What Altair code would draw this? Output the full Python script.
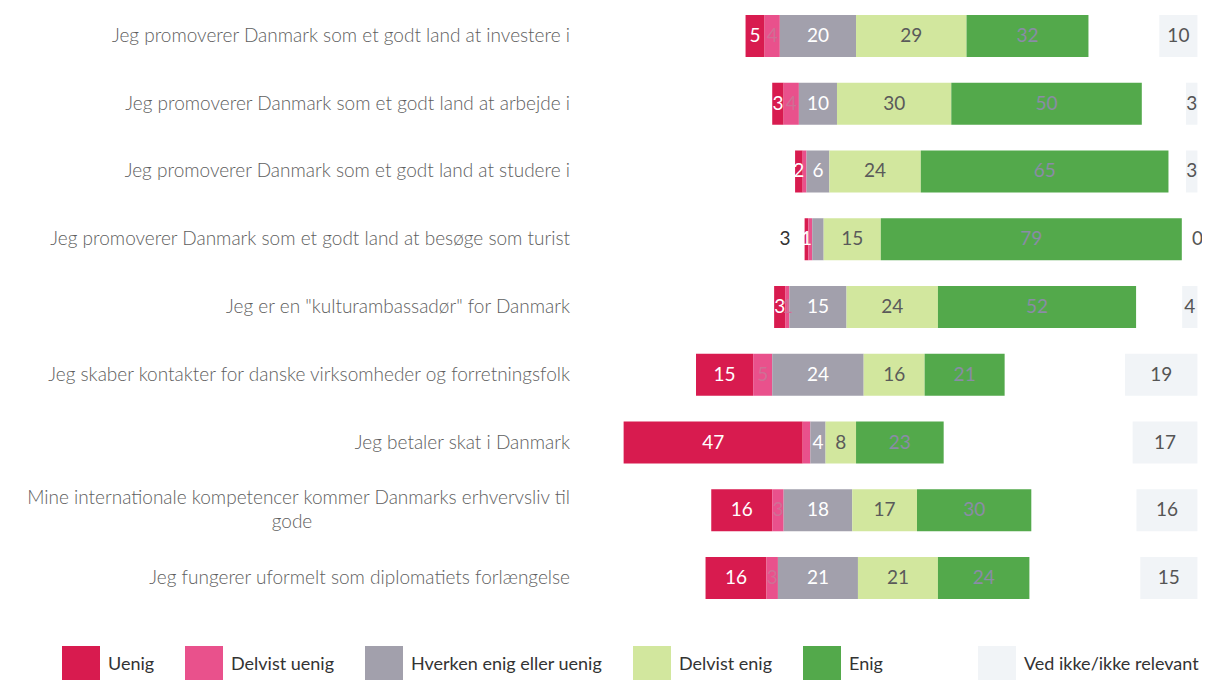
import altair as alt
import pandas as pd

statements = [
    "Jeg promoverer Danmark som et godt land at investere i",
    "Jeg promoverer Danmark som et godt land at arbejde i",
    "Jeg promoverer Danmark som et godt land at studere i",
    "Jeg promoverer Danmark som et godt land at besøge som turist",
    'Jeg er en "kulturambassadør" for Danmark',
    "Jeg skaber kontakter for danske virksomheder og forretningsfolk",
    "Jeg betaler skat i Danmark",
    "Mine internationale kompetencer kommer Danmarks erhvervsliv til gode",
    "Jeg fungerer uformelt som diplomatiets forlængelse",
]
label_line1 = [
    "Jeg promoverer Danmark som et godt land at investere i",
    "Jeg promoverer Danmark som et godt land at arbejde i",
    "Jeg promoverer Danmark som et godt land at studere i",
    "Jeg promoverer Danmark som et godt land at besøge som turist",
    'Jeg er en "kulturambassadør" for Danmark',
    "Jeg skaber kontakter for danske virksomheder og forretningsfolk",
    "Jeg betaler skat i Danmark",
    "Mine internationale kompetencer kommer Danmarks erhvervsliv til",
    "Jeg fungerer uformelt som diplomatiets forlængelse",
]
label_line2 = ["", "", "", "", "", "", "", "gode", ""]

categories = ["Uenig", "Delvist uenig", "Hverken enig eller uenig", "Delvist enig", "Enig"]
vi_category = "Ved ikke/ikke relevant"

uenig = [5, 3, 2, 1, 3, 15, 47, 16, 16]
delvist_uenig = [4, 4, 1, 1, 1, 5, 2, 3, 3]
hverken = [20, 10, 6, 3, 15, 24, 4, 18, 21]
delvist_enig = [29, 30, 24, 15, 24, 16, 8, 17, 21]
enig = [32, 50, 65, 79, 52, 21, 23, 30, 24]
ved_ikke = [10, 3, 3, 0, 4, 19, 17, 16, 15]

# shown value labels (empty = not shown in the original)
uenig_lbl = ["5", "3", "2", "1", "3", "15", "47", "16", "16"]
delvist_uenig_lbl = ["4", "4", "", "", "1", "5", "", "3", "3"]
hverken_lbl = ["20", "10", "6", "", "15", "24", "4", "18", "21"]
delvist_enig_lbl = ["29", "30", "24", "15", "24", "16", "8", "17", "21"]
enig_lbl = ["32", "50", "65", "79", "52", "21", "23", "30", "24"]
outside_lbl = ["", "", "", "3", "", "", "", "", ""]

colors = ["#d81b4f", "#e9518c", "#a2a0ac", "#d2e79e", "#53a94b"]
label_colors = ["#ffffff", "#cf6f95", "#ffffff", "#5a5a5a", "#8a8ca6"]
vi_color = "#f1f4f7"

X_MIN, X_MAX, VI_RIGHT = -57.2, 100.8, 99.6
FONT = "Lato"

series = [uenig, delvist_uenig, hverken, delvist_enig, enig]
series_lbl = [uenig_lbl, delvist_uenig_lbl, hverken_lbl, delvist_enig_lbl, enig_lbl]

rows = []
for i, s in enumerate(statements):
    start = -(uenig[i] + delvist_uenig[i] + hverken[i] / 2)
    for k, cat in enumerate(categories):
        v = series[k][i]
        rows.append(dict(statement=s, Svar=cat, value=v, start=start, end=start + v,
                         mid=start + v / 2, label=series_lbl[k][i], lcolor=label_colors[k]))
        start += v
seg = pd.DataFrame(rows)

vi = pd.DataFrame(dict(statement=statements, Svar=vi_category, value=ved_ikke,
                       vstart=[VI_RIGHT - v for v in ved_ikke], vend=[VI_RIGHT] * len(statements),
                       vmid=[VI_RIGHT - v / 2 for v in ved_ikke],
                       label=[str(v) for v in ved_ikke]))

out = pd.DataFrame(dict(statement=statements, label=outside_lbl,
                        left=[-(uenig[i] + delvist_uenig[i] + hverken[i] / 2) for i in range(len(statements))]))
out = out[out.label != ""]

cat_lbl = pd.DataFrame(dict(statement=statements, line1=label_line1, line2=label_line2))

xs = alt.Scale(domain=[X_MIN, X_MAX], nice=False, zero=False)
ys = alt.Scale(domain=statements, paddingInner=0.38, paddingOuter=0.103)
Y = alt.Y("statement:N", scale=ys, axis=None, sort=statements)

bars = alt.Chart(seg).mark_bar(strokeWidth=0).encode(
    x=alt.X("start:Q", scale=xs, axis=None),
    x2="end:Q",
    y=Y,
    color=alt.Color("Svar:N", scale=alt.Scale(domain=categories, range=colors),
                    legend=alt.Legend(orient="none", legendX=-538, legendY=638, direction="horizontal",
                                      columns=5, title=None, symbolType="square", symbolSize=1444,
                                      symbolStrokeWidth=0, symbolOpacity=1, labelFont=FONT,
                                      labelFontSize=18, labelColor="#333333", labelOffset=8,
                                      columnPadding=30, labelLimit=400)),
)

bar_text = alt.Chart(seg).mark_text(font=FONT, fontSize=19, baseline="middle", align="center").encode(
    x=alt.X("mid:Q", scale=xs),
    y=Y,
    text="label:N",
    color=alt.Color("lcolor:N", scale=None),
)

out_text = alt.Chart(out).mark_text(font=FONT, fontSize=19, baseline="middle", align="right",
                                    dx=-14, color="#333333").encode(
    x=alt.X("left:Q", scale=xs),
    y=Y,
    text="label:N",
)

vi_bars = alt.Chart(vi).mark_bar(strokeWidth=0).encode(
    x=alt.X("vstart:Q", scale=xs),
    x2="vend:Q",
    y=Y,
    color=alt.Color("Svar:N", scale=alt.Scale(domain=[vi_category], range=[vi_color]),
                    legend=alt.Legend(orient="none", legendX=378, legendY=638, title=None,
                                      symbolType="square", symbolSize=1444, symbolStrokeWidth=0,
                                      symbolOpacity=1, labelFont=FONT, labelFontSize=18,
                                      labelColor="#333333", labelOffset=8, labelLimit=400)),
)

vi_text = alt.Chart(vi).mark_text(font=FONT, fontSize=19, baseline="middle", align="center",
                                  color="#555555").encode(
    x=alt.X("vmid:Q", scale=xs),
    y=Y,
    text="label:N",
)

LBL = dict(font=FONT, fontSize=19, fontWeight=300, baseline="middle", color="#5e5e5e")

single = alt.Chart(cat_lbl).transform_filter("datum.line2 == ''").mark_text(
    align="right", **LBL
).encode(x=alt.value(-30), y=Y, text="line1:N")

double1 = alt.Chart(cat_lbl).transform_filter("datum.line2 != ''").mark_text(
    align="right", dy=-12, **LBL
).encode(x=alt.value(-30), y=Y, text="line1:N")

double2 = alt.Chart(cat_lbl).transform_filter("datum.line2 != ''").mark_text(
    align="center", dy=12, **LBL
).encode(x=alt.value(-308), y=Y, text="line2:N")

chart = alt.layer(bars, bar_text, out_text, vi_bars, vi_text, single, double1, double2).resolve_scale(
    color="independent"
).properties(
    width=602, height=598,
    autosize=alt.AutoSizeParams(type="none"),
    padding={"left": 592, "top": 0, "right": 0, "bottom": 74},
).configure_view(stroke=None)

chart.save("out.html", embed_options={"renderer": "svg", "actions": False})
